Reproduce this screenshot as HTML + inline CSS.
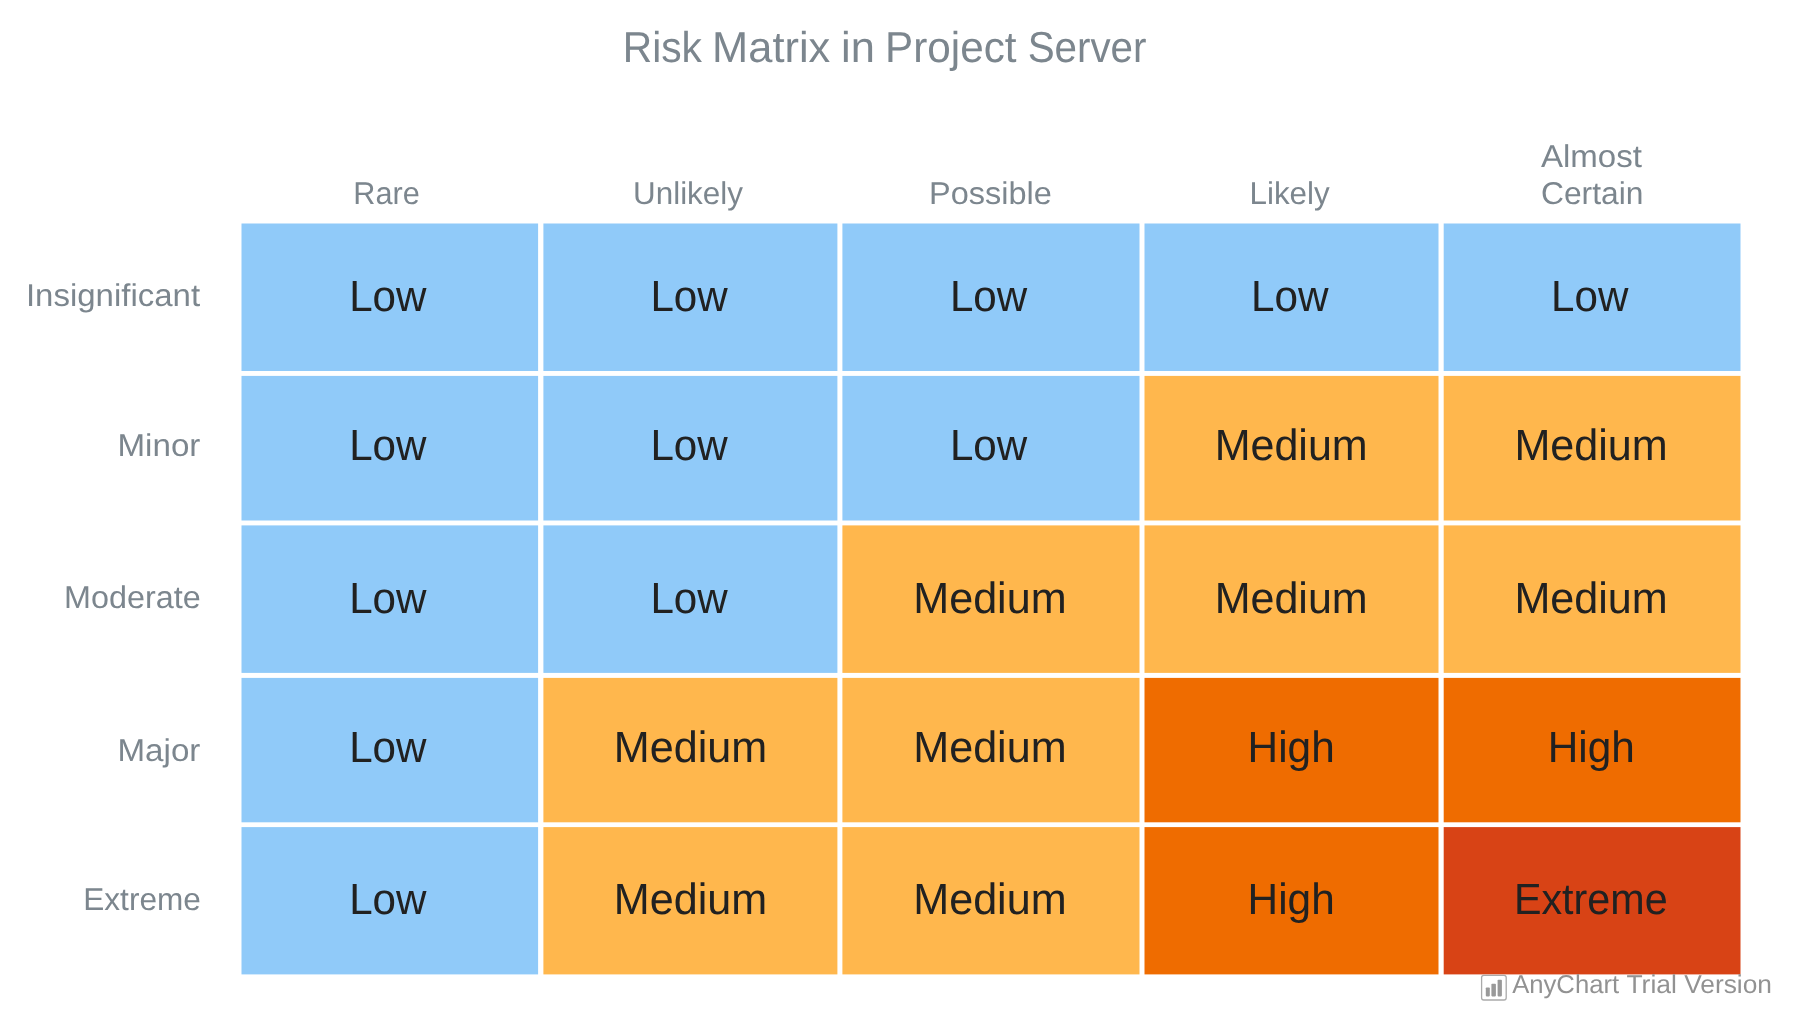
<!DOCTYPE html>
<html><head><meta charset="utf-8"><title>Risk Matrix in Project Server</title>
<style>
html,body{margin:0;padding:0;background:#fff;width:1794px;height:1015px;overflow:hidden}
svg{display:block;font-family:"Liberation Sans",sans-serif;will-change:transform;text-rendering:geometricPrecision}
.cl{font-size:43.75px;fill:#212121}
.ax{font-size:31.5px;fill:#7c868e}
.ti{font-size:43.3px;fill:#7c868e}
.wm{font-size:25.8px;fill:#929292}
</style></head><body>
<svg width="1794" height="1015" viewBox="0 0 1794 1015">
<rect x="241.5" y="223.5" width="296.6" height="147.5" fill="#90caf9"/>
<rect x="543.4" y="223.5" width="294.0" height="147.5" fill="#90caf9"/>
<rect x="842.4" y="223.5" width="297.1" height="147.5" fill="#90caf9"/>
<rect x="1144.5" y="223.5" width="294.0" height="147.5" fill="#90caf9"/>
<rect x="1443.7" y="223.5" width="296.8" height="147.5" fill="#90caf9"/>
<rect x="241.5" y="375.9" width="296.6" height="144.6" fill="#90caf9"/>
<rect x="543.4" y="375.9" width="294.0" height="144.6" fill="#90caf9"/>
<rect x="842.4" y="375.9" width="297.1" height="144.6" fill="#90caf9"/>
<rect x="1144.5" y="375.9" width="294.0" height="144.6" fill="#ffb74d"/>
<rect x="1443.7" y="375.9" width="296.8" height="144.6" fill="#ffb74d"/>
<rect x="241.5" y="525.4" width="296.6" height="147.5" fill="#90caf9"/>
<rect x="543.4" y="525.4" width="294.0" height="147.5" fill="#90caf9"/>
<rect x="842.4" y="525.4" width="297.1" height="147.5" fill="#ffb74d"/>
<rect x="1144.5" y="525.4" width="294.0" height="147.5" fill="#ffb74d"/>
<rect x="1443.7" y="525.4" width="296.8" height="147.5" fill="#ffb74d"/>
<rect x="241.5" y="677.9" width="296.6" height="144.4" fill="#90caf9"/>
<rect x="543.4" y="677.9" width="294.0" height="144.4" fill="#ffb74d"/>
<rect x="842.4" y="677.9" width="297.1" height="144.4" fill="#ffb74d"/>
<rect x="1144.5" y="677.9" width="294.0" height="144.4" fill="#ef6c00"/>
<rect x="1443.7" y="677.9" width="296.8" height="144.4" fill="#ef6c00"/>
<rect x="241.5" y="827.1" width="296.6" height="147.3" fill="#90caf9"/>
<rect x="543.4" y="827.1" width="294.0" height="147.3" fill="#ffb74d"/>
<rect x="842.4" y="827.1" width="297.1" height="147.3" fill="#ffb74d"/>
<rect x="1144.5" y="827.1" width="294.0" height="147.3" fill="#ef6c00"/>
<rect x="1443.7" y="827.1" width="296.8" height="147.3" fill="#d84315"/>
<text x="622.71" y="61.7" class="ti" textLength="79.24" lengthAdjust="spacingAndGlyphs">Risk</text>
<text x="712.14" y="61.7" class="ti" textLength="118.13" lengthAdjust="spacingAndGlyphs">Matrix</text>
<text x="840.99" y="61.7" class="ti" textLength="33.82" lengthAdjust="spacingAndGlyphs">in</text>
<text x="885.04" y="61.7" class="ti" textLength="131.52" lengthAdjust="spacingAndGlyphs">Project</text>
<text x="1027.64" y="61.7" class="ti" textLength="118.79" lengthAdjust="spacingAndGlyphs">Server</text>
<text x="349.14" y="311" class="cl" textLength="77.29" lengthAdjust="spacingAndGlyphs">Low</text>
<text x="650.43" y="311" class="cl" textLength="77.29" lengthAdjust="spacingAndGlyphs">Low</text>
<text x="949.88" y="311" class="cl" textLength="77.29" lengthAdjust="spacingAndGlyphs">Low</text>
<text x="1251.03" y="311" class="cl" textLength="77.54" lengthAdjust="spacingAndGlyphs">Low</text>
<text x="1551.08" y="311" class="cl" textLength="77.29" lengthAdjust="spacingAndGlyphs">Low</text>
<text x="349.14" y="459.9" class="cl" textLength="77.29" lengthAdjust="spacingAndGlyphs">Low</text>
<text x="650.43" y="459.9" class="cl" textLength="77.29" lengthAdjust="spacingAndGlyphs">Low</text>
<text x="949.88" y="459.9" class="cl" textLength="77.29" lengthAdjust="spacingAndGlyphs">Low</text>
<text x="1214.66" y="459.9" class="cl" textLength="153.05" lengthAdjust="spacingAndGlyphs">Medium</text>
<text x="1514.45" y="459.9" class="cl" textLength="153.31" lengthAdjust="spacingAndGlyphs">Medium</text>
<text x="349.14" y="612.9" class="cl" textLength="77.29" lengthAdjust="spacingAndGlyphs">Low</text>
<text x="650.43" y="612.9" class="cl" textLength="77.29" lengthAdjust="spacingAndGlyphs">Low</text>
<text x="913.25" y="612.9" class="cl" textLength="153.31" lengthAdjust="spacingAndGlyphs">Medium</text>
<text x="1214.66" y="612.9" class="cl" textLength="153.05" lengthAdjust="spacingAndGlyphs">Medium</text>
<text x="1514.45" y="612.9" class="cl" textLength="153.31" lengthAdjust="spacingAndGlyphs">Medium</text>
<text x="349.14" y="761.8" class="cl" textLength="77.29" lengthAdjust="spacingAndGlyphs">Low</text>
<text x="613.80" y="761.8" class="cl" textLength="153.31" lengthAdjust="spacingAndGlyphs">Medium</text>
<text x="913.25" y="761.8" class="cl" textLength="153.31" lengthAdjust="spacingAndGlyphs">Medium</text>
<text x="1247.62" y="761.8" class="cl" textLength="87.07" lengthAdjust="spacingAndGlyphs">High</text>
<text x="1547.66" y="761.8" class="cl" textLength="87.07" lengthAdjust="spacingAndGlyphs">High</text>
<text x="349.14" y="913.85" class="cl" textLength="77.29" lengthAdjust="spacingAndGlyphs">Low</text>
<text x="613.80" y="913.85" class="cl" textLength="153.31" lengthAdjust="spacingAndGlyphs">Medium</text>
<text x="913.25" y="913.85" class="cl" textLength="153.31" lengthAdjust="spacingAndGlyphs">Medium</text>
<text x="1247.62" y="913.85" class="cl" textLength="87.07" lengthAdjust="spacingAndGlyphs">High</text>
<text x="1513.90" y="913.85" class="cl" textLength="153.72" lengthAdjust="spacingAndGlyphs">Extreme</text>
<text x="353.37" y="203.7" class="ax" textLength="66.42" lengthAdjust="spacingAndGlyphs">Rare</text>
<text x="633.01" y="203.7" class="ax" textLength="109.97" lengthAdjust="spacingAndGlyphs">Unlikely</text>
<text x="929.07" y="203.7" class="ax" textLength="122.85" lengthAdjust="spacingAndGlyphs">Possible</text>
<text x="1249.51" y="203.7" class="ax" textLength="80.24" lengthAdjust="spacingAndGlyphs">Likely</text>
<text x="1540.94" y="166.9" class="ax" textLength="101.00" lengthAdjust="spacingAndGlyphs">Almost</text>
<text x="1540.99" y="203.7" class="ax" textLength="102.48" lengthAdjust="spacingAndGlyphs">Certain</text>
<text x="25.92" y="306.3" class="ax" textLength="174.16" lengthAdjust="spacingAndGlyphs">Insignificant</text>
<text x="117.46" y="456.06" class="ax" textLength="82.94" lengthAdjust="spacingAndGlyphs">Minor</text>
<text x="64.08" y="607.6" class="ax" textLength="136.63" lengthAdjust="spacingAndGlyphs">Moderate</text>
<text x="117.46" y="761.4" class="ax" textLength="82.94" lengthAdjust="spacingAndGlyphs">Major</text>
<text x="83.29" y="910.1" class="ax" textLength="117.54" lengthAdjust="spacingAndGlyphs">Extreme</text>
<text x="1512.15" y="993.2" class="wm" textLength="107.00" lengthAdjust="spacingAndGlyphs">AnyChart</text>
<text x="1626.43" y="993.2" class="wm" textLength="50.52" lengthAdjust="spacingAndGlyphs">Trial</text>
<text x="1684.15" y="993.2" class="wm" textLength="87.83" lengthAdjust="spacingAndGlyphs">Version</text>
<rect x="1481.6" y="975.4" width="24.6" height="24.6" rx="2.2" fill="none" stroke="#aaaaaa" stroke-width="1.3"/>
<rect x="1485.8" y="987.4" width="4" height="9" rx="0.8" fill="#999"/>
<rect x="1491.4" y="983.8" width="4.5" height="12.6" rx="0.8" fill="#999"/>
<rect x="1497.6" y="979.8" width="4.3" height="16.6" rx="0.8" fill="#999"/>
</svg>
</body></html>
